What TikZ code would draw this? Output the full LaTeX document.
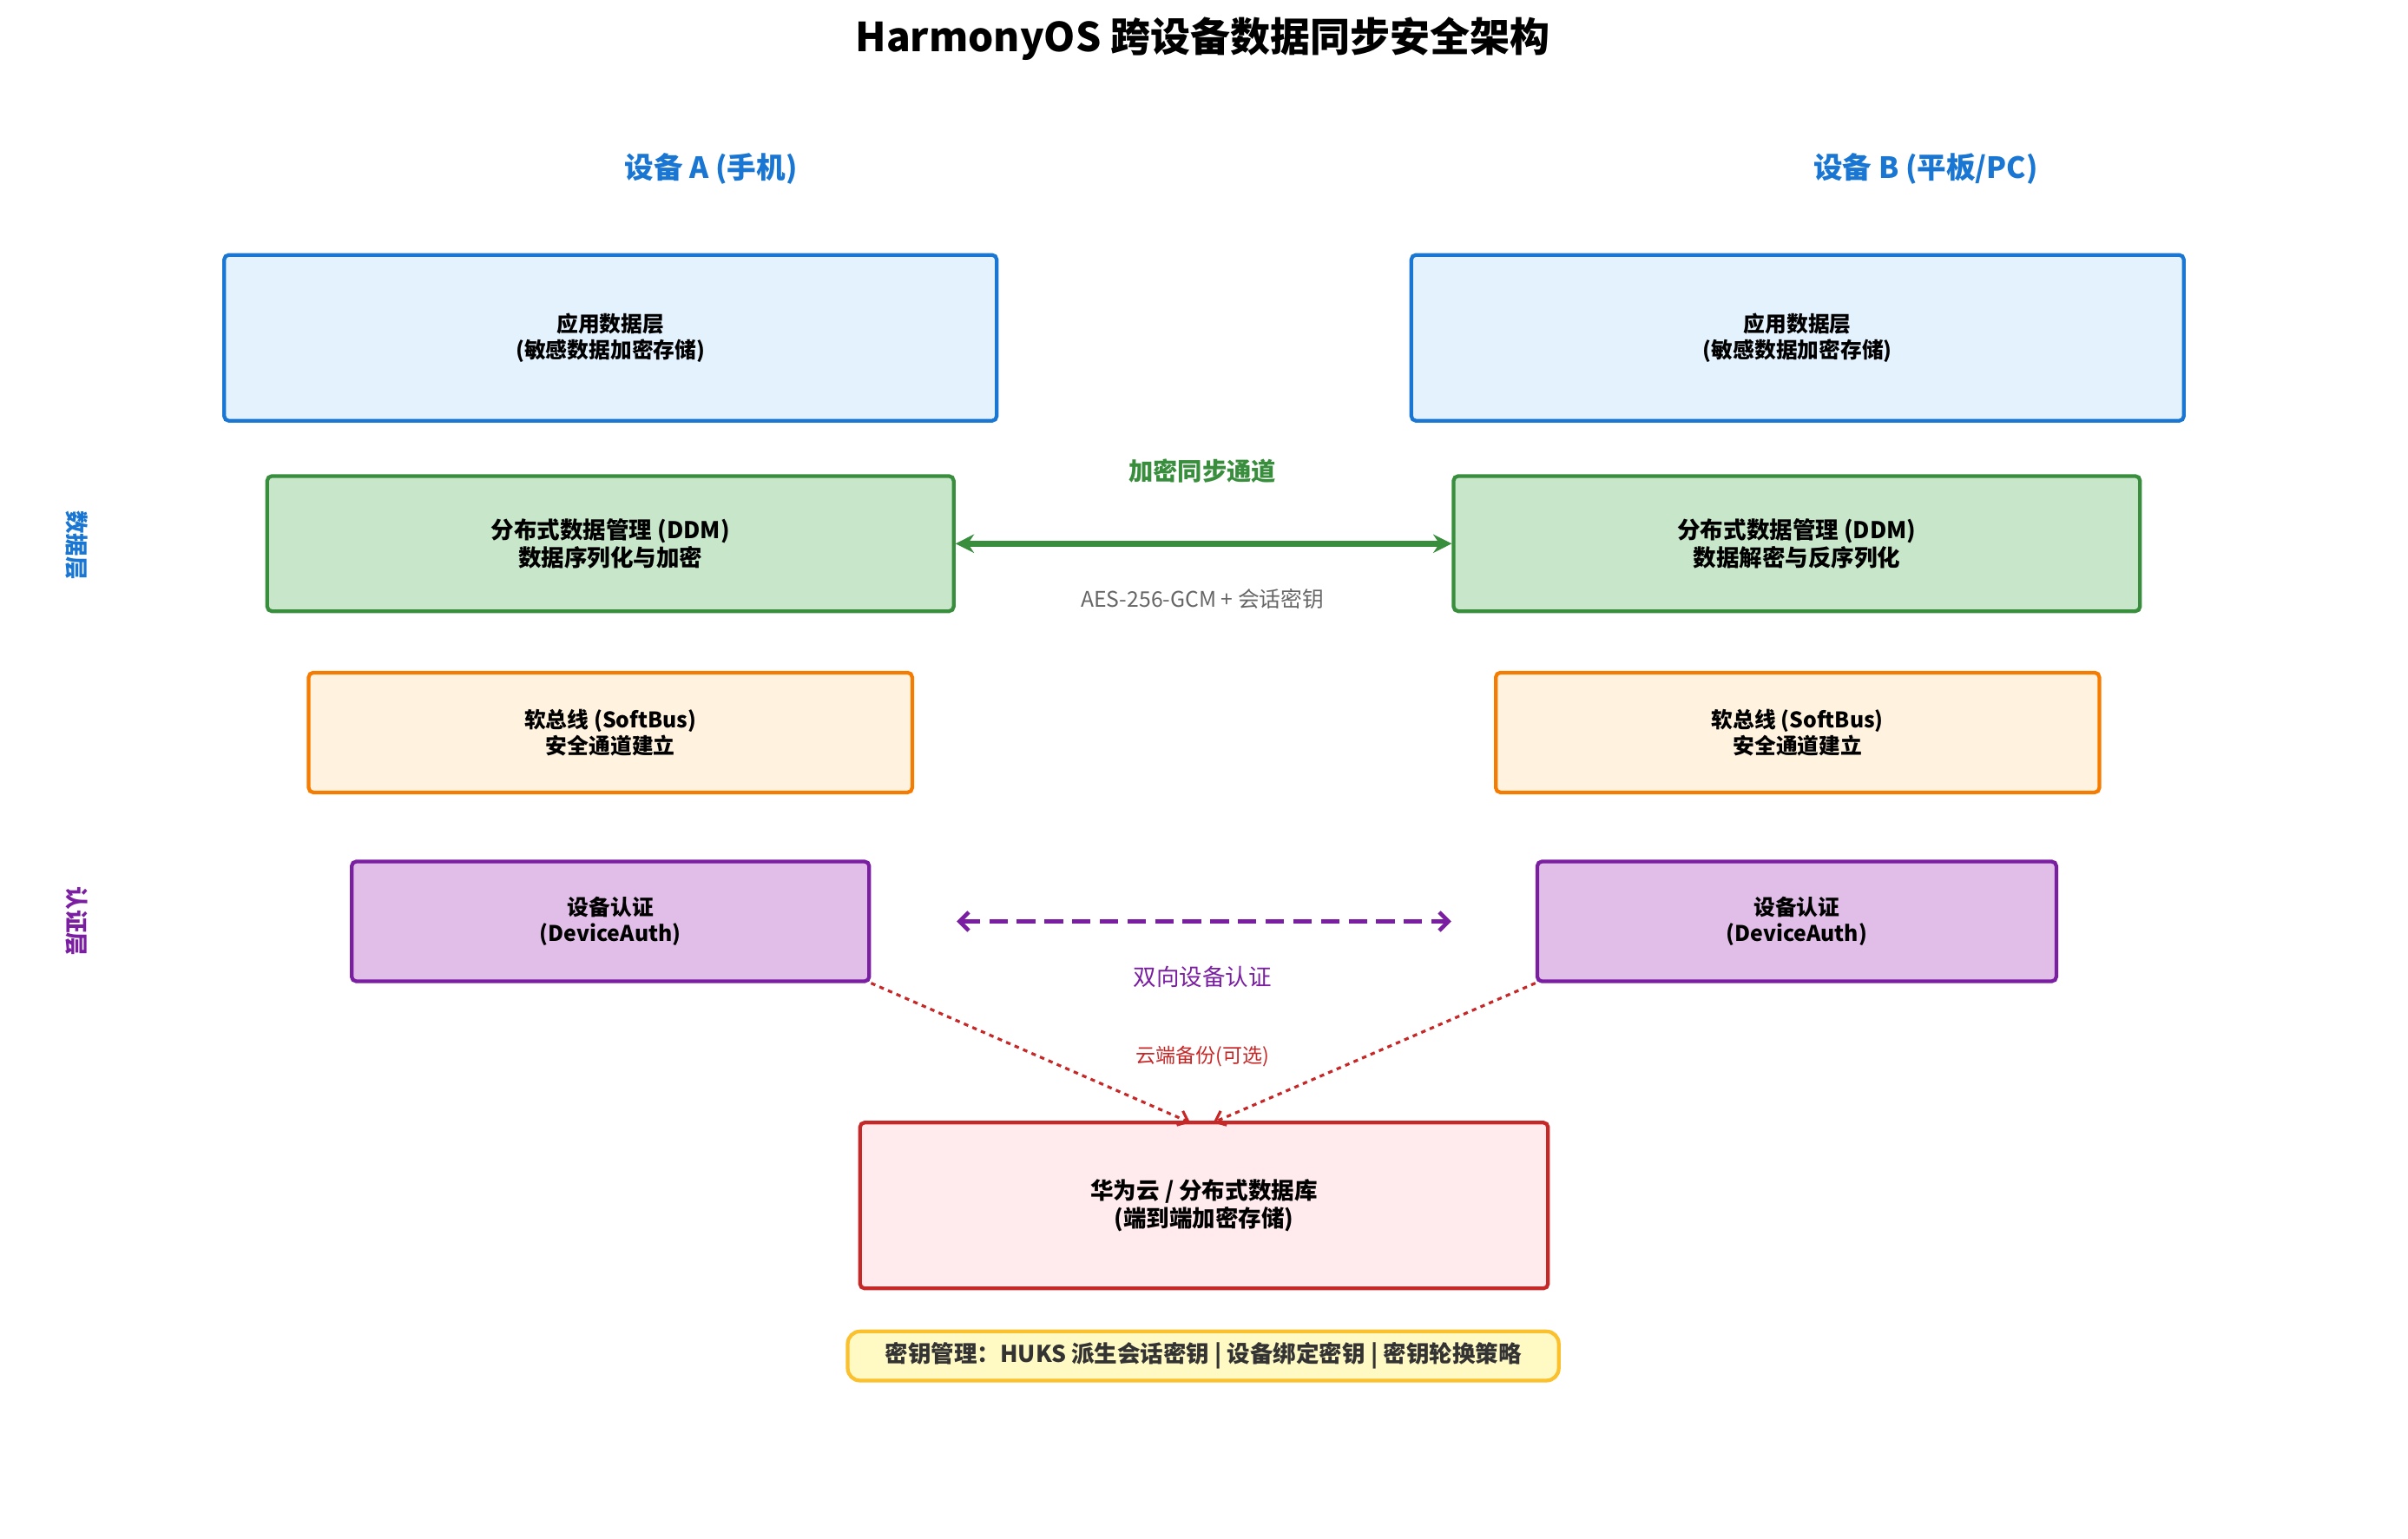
\documentclass[tikz,border=0pt]{standalone}
\usepackage{fontspec}
\setmainfont{Noto Sans CJK SC}
\usetikzlibrary{arrows.meta}
\definecolor{bA}{HTML}{1976D2}\definecolor{bF}{HTML}{E3F2FD}
\definecolor{gA}{HTML}{388E3C}\definecolor{gF}{HTML}{C8E6C9}
\definecolor{oA}{HTML}{F57C00}\definecolor{oF}{HTML}{FFF3E0}
\definecolor{pA}{HTML}{7B1FA2}\definecolor{pF}{HTML}{E1BEE7}
\definecolor{rA}{HTML}{C62828}\definecolor{rF}{HTML}{FFEBEE}
\definecolor{yA}{HTML}{FBC02D}\definecolor{yF}{HTML}{FFF9C4}
\tikzset{
 box/.style={draw=#1A,fill=#1F,line width=1.2pt,rounded corners=1.5pt,align=center,inner sep=0pt,font=\fontsize{7}{8.5}\selectfont\bfseries},
}
\begin{document}
\begin{tikzpicture}[x=0.5pt,y=-0.5pt]
\useasboundingbox (0,0) rectangle (1568,1002);
\node[font=\fontsize{13}{15}\selectfont\bfseries] (title) at (783,25) {HarmonyOS 跨设备数据同步安全架构};
\node[font=\fontsize{9.5}{11}\selectfont\bfseries,text=bA] (devA) at (463,110) {设备 A (手机)};
\node[font=\fontsize{9.5}{11}\selectfont\bfseries,text=bA] (devB) at (1254,110) {设备 B (平板/PC)};
\node[font=\fontsize{7.5}{8}\selectfont\bfseries,text=bA,rotate=-90] (l1) at (50,355) {数据层};
\node[font=\fontsize{7.5}{8}\selectfont\bfseries,text=pA,rotate=-90] (l2) at (50,600) {认证层};
% device A
\node[box=b,minimum width=251.5pt,minimum height=54pt] (appA) at (397.5,220) {应用数据层\\(敏感数据加密存储)};
\node[box=g,minimum width=223.5pt,minimum height=44pt,font=\fontsize{7.5}{9}\selectfont\bfseries] (ddmA) at (397.5,354) {分布式数据管理 (DDM)\\数据序列化与加密};
\node[box=o,minimum width=196.5pt,minimum height=39pt] (sbA) at (397.5,477) {软总线 (SoftBus)\\安全通道建立};
\node[box=p,minimum width=168.5pt,minimum height=39pt] (auA) at (397.5,600) {设备认证\\(DeviceAuth)};
% device B
\node[box=b,minimum width=251.5pt,minimum height=54pt] (appB) at (1170.5,220) {应用数据层\\(敏感数据加密存储)};
\node[box=g,minimum width=223.5pt,minimum height=44pt,font=\fontsize{7.5}{9}\selectfont\bfseries] (ddmB) at (1170,354) {分布式数据管理 (DDM)\\数据解密与反序列化};
\node[box=o,minimum width=196.5pt,minimum height=39pt] (sbB) at (1170.5,477) {软总线 (SoftBus)\\安全通道建立};
\node[box=p,minimum width=169pt,minimum height=39pt] (auB) at (1170,600) {设备认证\\(DeviceAuth)};
% cloud
\node[box=r,minimum width=224pt,minimum height=54pt,font=\fontsize{7.5}{9}\selectfont\bfseries] (cloud) at (784,785) {华为云 / 分布式数据库\\(端到端加密存储)};
\node[box=y,minimum width=231.5pt,minimum height=16pt,rounded corners=4pt,font=\fontsize{7.5}{9}\selectfont\bfseries,text=black!80] (key) at (783.5,883) {密钥管理：HUKS 派生会话密钥 | 设备绑定密钥 | 密钥轮换策略};
% connectors
\draw[gA,line width=2pt,{Stealth[length=6pt,width=6pt]}-{Stealth[length=6pt,width=6pt]}] (ddmA.east) -- (ddmB.west);
\node[text=gA,font=\fontsize{8}{9}\selectfont\bfseries] (t1) at (783,307) {加密同步通道};
\node[text=black!60,font=\fontsize{7}{8}\selectfont] (t2) at (783,390) {AES-256-GCM + 会话密钥};
\coordinate (pa) at (623,600); \coordinate (pb) at (945,600);
\draw[pA,line width=1.3pt,dash pattern=on 6pt off 3pt,{Straight Barb[length=3pt,width=6pt]}-{Straight Barb[length=3pt,width=6pt]}] (pa) -- (pb);
\node[text=pA,font=\fontsize{7.5}{9}\selectfont] (t3) at (783,636) {双向设备认证};
\coordinate (ca) at (775,731); \coordinate (cb) at (790,731);
\draw[rA,line width=0.9pt,dash pattern=on 1.5pt off 1.5pt,-{Straight Barb[length=3pt,width=5pt]}] (auA.south east) -- (ca);
\draw[rA,line width=0.9pt,dash pattern=on 1.5pt off 1.5pt,-{Straight Barb[length=3pt,width=5pt]}] (auB.south west) -- (cb);
\node[text=rA,font=\fontsize{6.5}{8}\selectfont] (t4) at (783,688) {云端备份(可选)};
\end{tikzpicture}
\end{document}
